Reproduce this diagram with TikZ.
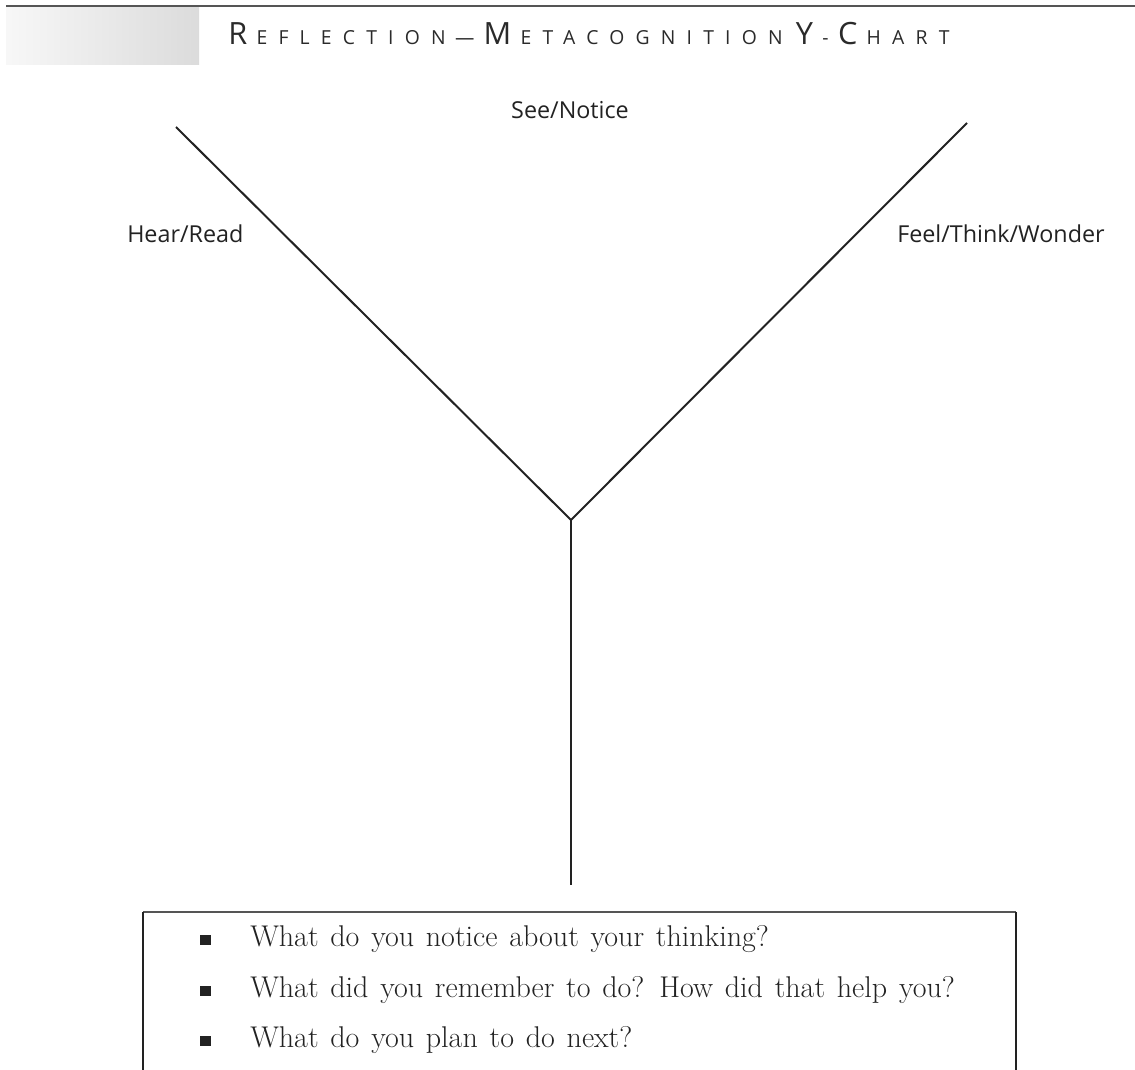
\documentclass[tikz,border=0pt]{standalone}
\usepackage{fontspec}
\newfontfamily\labelfont{Open Sans}
\newfontfamily\titlefont[LetterSpace=58]{Open Sans}
\newfontfamily\qfont[WordSpace=1.3]{Latin Modern Roman}
\definecolor{ink}{HTML}{222222}
\definecolor{titleink}{HTML}{2a2a2a}
\definecolor{rulegray}{HTML}{555555}
\newcommand{\bigc}[1]{{\fontsize{23}{23}\selectfont #1}\kern7pt}
\newcommand{\smc}[1]{{\fontsize{14.5}{14.5}\selectfont #1}\kern7pt}
\newcommand{\smclast}[1]{{\fontsize{14.5}{14.5}\selectfont #1}}
\begin{document}
\begin{tikzpicture}[x=0.75pt,y=-0.75pt,
  arm/.style={draw=ink,line width=1.5pt,line cap=butt},
  armlabel/.style={font=\labelfont\fontsize{17.5}{17.5}\selectfont,text=ink,inner sep=0pt},
  question/.style={font=\qfont\fontsize{22.5}{22.5}\selectfont,text=ink,inner sep=0pt,anchor=base west},
  bulletsq/.style={fill=ink,draw=none,minimum width=8.25pt,minimum height=7.5pt,inner sep=0pt}]
\useasboundingbox (0,0) rectangle (1135,1070);
% header
\shade[left color=white!97!black,right color=white!86!black] (6,7) rectangle (199,65);
\coordinate (hl) at (6,6);
\coordinate (hr) at (1135,6);
\draw[draw=rulegray,line width=1.5pt] (hl) -- (hr);
\node[anchor=base west,inner sep=0pt,text=titleink,font=\titlefont] (title) at (228,45)
  {\bigc{R}\smc{EFLECTION}\smc{—}\bigc{M}\smc{ETACOGNITION}\kern3pt\bigc{Y}\smc{-}\bigc{C}\smclast{HART}};
% Y chart
\coordinate (lt) at (176,127);
\coordinate (rt) at (967,123);
\coordinate (j) at (571,520);
\coordinate (sb) at (571,885);
\draw[arm] (lt) -- (j) -- (rt);
\draw[arm] (j) -- (sb);
\node[armlabel,anchor=base] (see) at (570,119) {See/Notice};
\node[armlabel,anchor=base west] (hear) at (127,242) {Hear/Read};
\node[armlabel,anchor=base west] (feel) at (897,242) {Feel/Think/Wonder};
% question box
\coordinate (bl0) at (143,1072);
\coordinate (bl) at (143,912);
\coordinate (br) at (1016,912);
\coordinate (br0) at (1016,1072);
\draw[draw=rulegray,line width=1.5pt] (bl) -- (br);
\draw[draw=ink,line width=0.9pt] (bl0) -- (bl);
\draw[draw=ink,line width=0.9pt] (br) -- (br0);
\node[bulletsq] (b1) at (205.5,940) {};
\node[bulletsq] (b2) at (205.5,991) {};
\node[bulletsq] (b3) at (205.5,1041) {};
\node[question] (q1) at (250,946) {What do you notice about your thinking?};
\node[question] (q2) at (250,997) {What did you remember to do? How did that help you?};
\node[question] (q3) at (250,1047) {What do you plan to do next?};
\end{tikzpicture}
\end{document}
